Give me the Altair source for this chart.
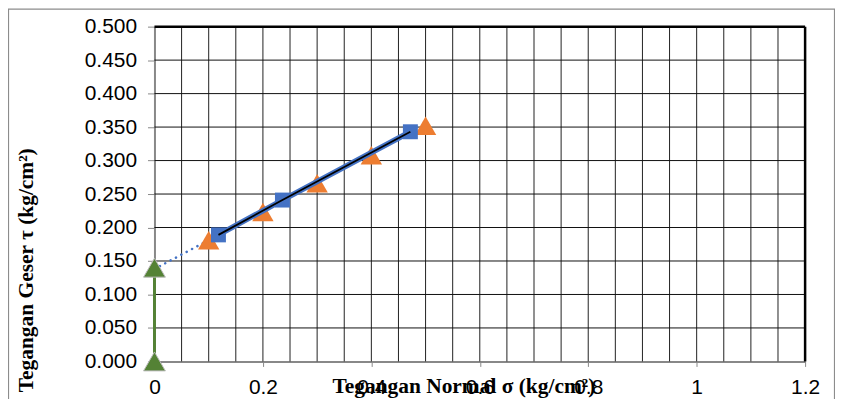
import altair as alt
import pandas as pd

# ---- data ----
tri_x = [0.1, 0.2, 0.3, 0.4, 0.5]
tri_y = [0.181, 0.223, 0.266, 0.308, 0.352]

sq_x = [0.118, 0.236, 0.472]
sq_y = [0.189, 0.241, 0.343]

# extrapolation of the trend line to x = 0
ext_x = [0.0, 0.118]
ext_y = [0.138, 0.189]

# cohesion marker (green)
coh_x = [0.0, 0.0]
coh_y = [0.0, 0.140]

x_ticks = [0, 0.2, 0.4, 0.6, 0.8, 1.0, 1.2]
y_ticks = [0.0, 0.05, 0.1, 0.15, 0.2, 0.25, 0.3, 0.35, 0.4, 0.45, 0.5]
x_grid = [round(0.05 * i, 2) for i in range(1, 24)]
y_grid = [round(0.05 * i, 2) for i in range(1, 10)]

X_DOMAIN = [0, 1.2]
Y_DOMAIN = [0, 0.5]

W, H = 653, 336
PAD = {"left": 147, "top": 18, "right": 30, "bottom": 37}

xs = alt.Scale(domain=X_DOMAIN, nice=False, zero=False)
ys = alt.Scale(domain=Y_DOMAIN, nice=False, zero=False)

tri_df = pd.DataFrame({"x": tri_x, "y": tri_y})
sq_df = pd.DataFrame({"x": sq_x, "y": sq_y})
ext_df = pd.DataFrame({"x": ext_x, "y": ext_y})
coh_df = pd.DataFrame({"x": coh_x, "y": coh_y})
xg_df = pd.DataFrame({"x": x_grid})
yg_df = pd.DataFrame({"y": y_grid})

x_axis = alt.Axis(
    values=x_ticks, format="~g", grid=False, labelFont="Liberation Sans",
    labelFontSize=21, labelColor="#000", tickColor="#888", tickSize=5,
    domainColor="#888", domainWidth=2, labelPadding=10, labelFlush=False,
    labelOverlap=False,
    title="Tegangan Normal  σ (kg/cm²)", titleFont="Liberation Serif",
    titleFontSize=21.5, titleFontWeight="bold", titleColor="#000",
    titleX=310, titleY=25, titleBaseline="middle", titleAlign="center",
)
y_axis = alt.Axis(
    values=y_ticks, format=".3f", grid=False, labelFont="Liberation Sans",
    labelFontSize=21, labelColor="#000", tickColor="#888", tickSize=7,
    domainColor="#888", domainWidth=2, labelPadding=11, labelFlush=False,
    labelOverlap=False,
    title="Tegangan Geser τ (kg/cm²)", titleFont="Liberation Serif",
    titleFontSize=21.5, titleFontWeight="bold", titleColor="#000",
    titleX=-128, titleY=244, titleAngle=270, titleBaseline="middle",
    titleAlign="center",
)

base_x = alt.X("x:Q", scale=xs, axis=x_axis)
base_y = alt.Y("y:Q", scale=ys, axis=y_axis)

vgrid = alt.Chart(xg_df).mark_rule(color="#222", strokeWidth=1).encode(
    x=alt.X("x:Q", scale=xs, axis=x_axis)
)
hgrid = alt.Chart(yg_df).mark_rule(color="#111", strokeWidth=1).encode(
    y=alt.Y("y:Q", scale=ys, axis=y_axis)
)
top_border = alt.Chart(pd.DataFrame({"y": [Y_DOMAIN[1]]})).mark_rule(
    color="#000", strokeWidth=2.5).encode(y=alt.Y("y:Q", scale=ys, axis=y_axis))
right_border = alt.Chart(pd.DataFrame({"x": [X_DOMAIN[1]]})).mark_rule(
    color="#000", strokeWidth=2.5).encode(x=alt.X("x:Q", scale=xs, axis=x_axis))

ext_line = alt.Chart(ext_df).mark_line(
    color="#4472C4", strokeWidth=2.5, strokeDash=[0.1, 6], strokeCap="round"
).encode(x=base_x, y=base_y)

coh_line = alt.Chart(coh_df).mark_line(color="#548235", strokeWidth=3).encode(
    x=base_x, y=base_y)
coh_pts = alt.Chart(coh_df).mark_point(
    shape="triangle-up", filled=True, size=480, color="#548235",
    stroke="#BBBBBB", strokeWidth=1, opacity=1
).encode(x=base_x, y=base_y)

tri_pts = alt.Chart(tri_df).mark_point(
    shape="triangle-up", filled=True, size=460, color="#ED7D31", opacity=1
).encode(x=base_x, y=base_y)

blue_line = alt.Chart(sq_df).mark_line(color="#4472C4", strokeWidth=5.5).encode(
    x=base_x, y=base_y)
sq_pts = alt.Chart(sq_df).mark_point(
    shape="square", filled=True, size=225, color="#4472C4", opacity=1
).encode(x=base_x, y=base_y)
black_line = alt.Chart(sq_df).mark_line(color="#000", strokeWidth=1.8).encode(
    x=base_x, y=base_y)

frame = alt.Chart(pd.DataFrame({"a": [0]})).mark_rect(
    fill=None, stroke="#8c8c8c", strokeWidth=1.2, clip=False
).encode(
    x=alt.value(-PAD["left"] + 0.5), x2=alt.value(W + PAD["right"] - 0.5),
    y=alt.value(-PAD["top"] + 0.5), y2=alt.value(H + PAD["bottom"] + 5),
)

chart = alt.layer(
    vgrid, hgrid, top_border, right_border, ext_line, coh_line, coh_pts,
    tri_pts, blue_line, sq_pts, black_line, frame,
).properties(
    width=W, height=H,
    autosize=alt.AutoSizeParams(type="none"),
    padding=PAD,
    background="white",
).configure_view(stroke=None)

chart.save("out.html", embed_options={"renderer": "svg", "actions": False})
